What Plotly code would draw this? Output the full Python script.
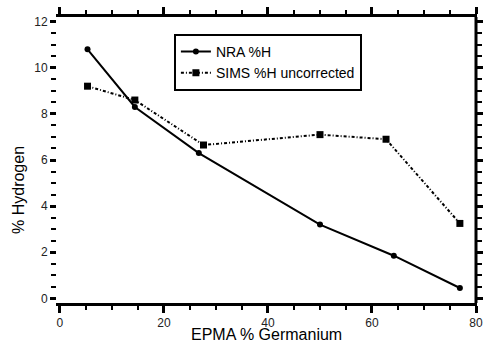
import plotly.graph_objects as go

# EPMA germanium content (%) for each sample
ge_nra = [5.3, 14.4, 26.7, 50.0, 64.2, 76.9]
h_nra = [10.8, 8.3, 6.3, 3.2, 1.85, 0.45]

ge_sims = [5.3, 14.4, 27.6, 50.0, 62.7, 76.9]
h_sims = [9.2, 8.6, 6.65, 7.1, 6.9, 3.25]

# tick positions
x_major = [0, 20, 40, 60, 80]
y_major = [0, 2, 4, 6, 8, 10, 12]

FONT = "Liberation Sans, Arial, sans-serif"
X_RANGE = [-0.57, 80]
Y_RANGE = [-0.2, 12.2]

fig = go.Figure()
fig.add_trace(go.Scatter(
    x=ge_nra, y=h_nra, name="NRA %H", mode="lines+markers",
    line=dict(color="black", width=2),
    marker=dict(symbol="circle", size=6, color="black"),
))
fig.add_trace(go.Scatter(
    x=ge_sims, y=h_sims, name="SIMS %H uncorrected", mode="lines+markers",
    line=dict(color="black", width=2, dash="3px,2px,1px,2px"),
    marker=dict(symbol="square", size=7, color="black"),
))

tick_font = dict(family=FONT, size=12, color="#222")

fig.update_xaxes(range=X_RANGE, tickmode="array", tickvals=x_major,
                 ticktext=[str(v) for v in x_major],
                 ticks="outside", ticklen=7, tickwidth=3, tickcolor="#000000",
                 minor=dict(ticks="outside", ticklen=4, tickwidth=2,
                            tickcolor="#000000", dtick=5, tick0=0),
                 showline=True, linecolor="black", linewidth=3, mirror="allticks",
                 showgrid=False, zeroline=False, tickfont=tick_font)
fig.update_yaxes(range=Y_RANGE, tickmode="array", tickvals=y_major,
                 ticktext=[str(v) for v in y_major],
                 ticks="outside", ticklen=6, tickwidth=3, tickcolor="#000000",
                 minor=dict(ticks="outside", ticklen=5, tickwidth=2,
                            tickcolor="#000000", dtick=0.5, tick0=0),
                 showline=True, linecolor="white", linewidth=1, mirror="allticks",
                 showgrid=False, zeroline=False, tickfont=tick_font)

# right-hand frame edge (the left edge has no line)
fig.add_shape(type="line", xref="paper", yref="paper", x0=1, x1=1, y0=0, y1=1,
              line=dict(color="black", width=3))

fig.add_annotation(text="EPMA % Germanium", xref="paper", yref="paper",
                   x=0.5, y=-0.11, xanchor="center", yanchor="middle",
                   showarrow=False, font=dict(family=FONT, size=16, color="black"))
fig.add_annotation(text="% Hydrogen", xref="paper", yref="paper",
                   x=-0.0915, y=0.394, xanchor="center", yanchor="middle",
                   textangle=-90, showarrow=False,
                   font=dict(family=FONT, size=16, color="black"))

fig.update_layout(
    width=490, height=345,
    margin=dict(l=57, r=7, t=14, b=42),
    paper_bgcolor="white", plot_bgcolor="white",
    showlegend=True,
    legend=dict(x=0.279, y=0.941, xanchor="left", yanchor="top",
                bordercolor="black", borderwidth=2, bgcolor="white",
                font=dict(family=FONT, size=14, color="black"),
                tracegroupgap=0, itemwidth=30),
)

fig.write_html("out.html")
